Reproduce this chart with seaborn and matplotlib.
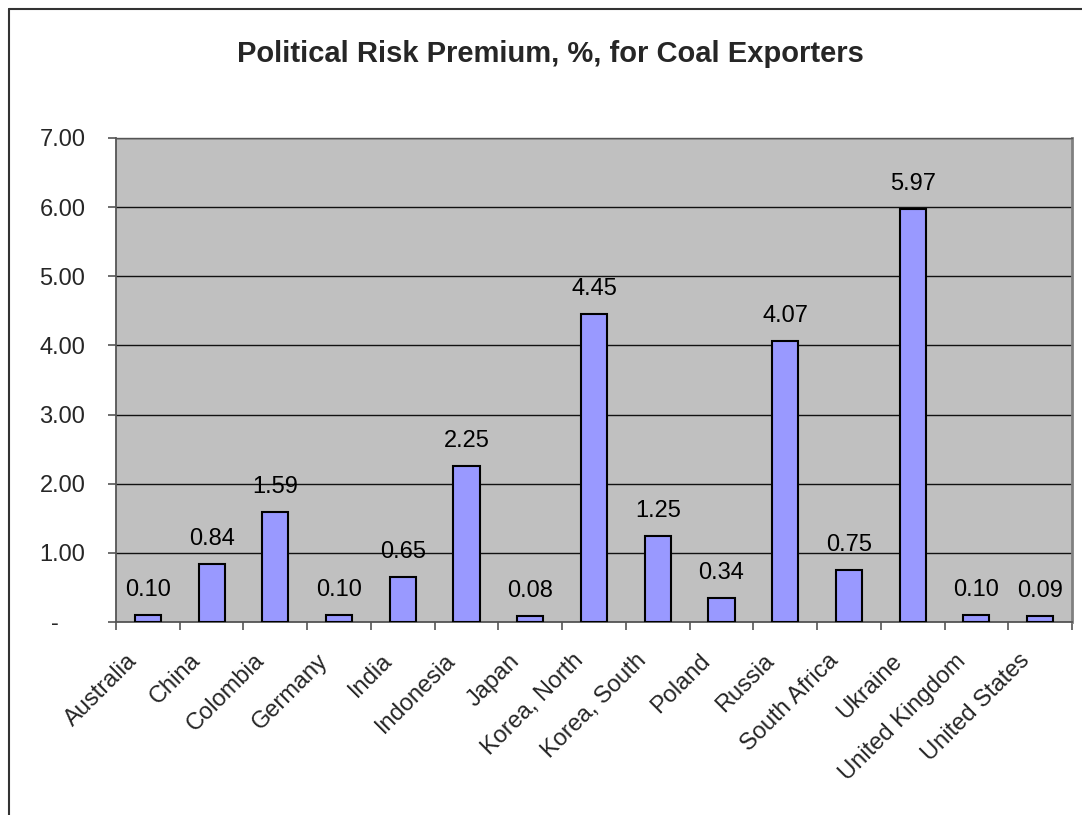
import matplotlib
matplotlib.use("Agg")
import matplotlib.pyplot as plt
import matplotlib.transforms as mtransforms
from matplotlib.lines import Line2D
import seaborn as sns
import pandas as pd

countries = ["Australia", "China", "Colombia", "Germany", "India", "Indonesia",
             "Japan", "Korea, North", "Korea, South", "Poland", "Russia",
             "South Africa", "Ukraine", "United Kingdom", "United States"]
premium = [0.10, 0.84, 1.59, 0.10, 0.65, 2.25, 0.08, 4.45, 1.25, 0.34,
           4.07, 0.75, 5.97, 0.10, 0.09]
y_ticks = [0, 1, 2, 3, 4, 5, 6, 7]
y_tick_labels = ["-    ", "1.00", "2.00", "3.00", "4.00", "5.00", "6.00", "7.00"]
title = "Political Risk Premium, %, for Coal Exporters"

sns.set_style("white")
plt.rcParams["font.family"] = ["Liberation Sans", "DejaVu Sans"]

W, H = 1082, 815
FS = 17
fig = plt.figure(figsize=(W / 100, H / 100), dpi=100)
ax = fig.add_axes([116 / W, 193 / H, 956 / W, 484 / H])
ax.set_facecolor("#C0C0C0")

df = pd.DataFrame({"country": countries, "premium": premium})
sns.barplot(data=df, x="country", y="premium", color="#9999FF", saturation=1,
            width=0.41, edgecolor="black", linewidth=1.5, ax=ax, zorder=3)

ax.set_xlim(-0.5, len(countries) - 0.5)
ax.set_ylim(0, 7)
ax.set_xlabel("")
ax.set_ylabel("")

# gridlines
ax.set_yticks(y_ticks)
ax.set_yticklabels(y_tick_labels, fontsize=FS)
ax.yaxis.grid(True, color="#111111", linewidth=1.0, zorder=1)
ax.set_axisbelow(True)
ax.tick_params(axis="y", direction="out", length=6, width=1.2, color="#555555",
               pad=16, left=True)

# x ticks: labels at centres, tick marks at boundaries
ax.set_xticks(range(len(countries)))
ax.set_xticklabels(countries, fontsize=FS, rotation=45, ha="right",
                   va="top", rotation_mode="anchor")
ax.set_xticks([i - 0.5 for i in range(len(countries) + 1)], minor=True)
ax.tick_params(axis="x", which="major", length=0, pad=20)
ax.tick_params(axis="x", which="minor", direction="out", length=6, width=1.2,
               color="#555555", bottom=True)
offset = mtransforms.ScaledTranslation(-22 / 100, 0, fig.dpi_scale_trans)
for lbl in ax.get_xticklabels():
    lbl.set_transform(lbl.get_transform() + offset)

for s in ["left", "bottom"]:
    ax.spines[s].set_color("#555555")
    ax.spines[s].set_linewidth(1.3)
ax.spines["right"].set_color("#808080")
ax.spines["right"].set_linewidth(2.0)
ax.spines["top"].set_color("#555555")
ax.spines["top"].set_linewidth(1.0)

# value labels
for i, v in enumerate(premium):
    ax.annotate(f"{v:.2f}", xy=(i, v), xytext=(0, 13.7), textcoords="offset points",
                ha="center", va="baseline", fontsize=FS, color="black", zorder=5)

# title
fig.text(550.5 / W, (H - 62) / H, title, ha="center", va="baseline",
         fontsize=21, fontweight="bold")

# chart frame (left and top edges)
x0 = 8.5 / W
y0 = (H - 8.5) / H
fig.add_artist(Line2D([x0, x0], [0, y0], transform=fig.transFigure,
                      color="#333333", linewidth=1.5))
fig.add_artist(Line2D([x0, 1], [y0, y0], transform=fig.transFigure,
                      color="#333333", linewidth=1.5))

fig.savefig("out.png", dpi=100)
